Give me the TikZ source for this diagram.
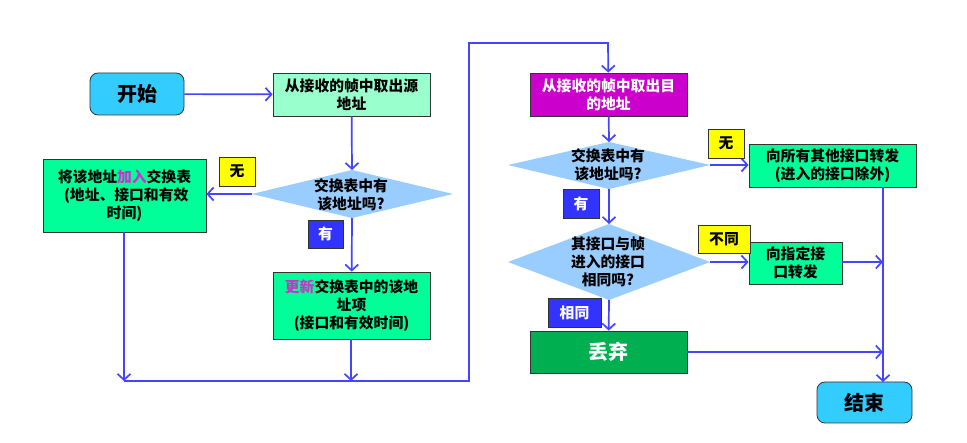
\documentclass[tikz,border=0pt]{standalone}
\usepackage{fontspec}
\setmainfont{Noto Sans CJK SC}
\usetikzlibrary{arrows.meta}
\definecolor{lineblue}{HTML}{4545FF}
\definecolor{startc}{HTML}{33CCFF}
\definecolor{mintc}{HTML}{99FFCC}
\definecolor{greenc}{HTML}{00FF99}
\definecolor{magc}{HTML}{CC00CC}
\definecolor{diac}{HTML}{99CCFF}
\definecolor{yelc}{HTML}{FFFF00}
\definecolor{bluec}{HTML}{3333FF}
\definecolor{darkgc}{HTML}{00B050}
\definecolor{bordc}{HTML}{333333}
\definecolor{hlc}{HTML}{CC33CC}
\begin{document}
\begin{tikzpicture}[x=1pt,y=-1pt,
  ln/.style={draw=lineblue, line width=1.7pt},
  arr/.style={ln, -{Straight Barb[length=6pt,width=13pt,line width=1.7pt]}},
  bx/.style={draw=bordc, line width=0.8pt, align=center, inner sep=0pt,
    font=\fontsize{14.8}{18}\selectfont\bfseries},
  bigbx/.style={bx, rounded corners=8pt, fill=startc, font=\fontsize{20}{24}\selectfont\bfseries},
  lbl/.style={draw=bordc, line width=0.8pt, inner sep=0pt, align=center,
    font=\fontsize{14.8}{16}\selectfont\bfseries},
  ylbl/.style={lbl, fill=yelc, text=black},
  blbl/.style={lbl, fill=bluec, text=white},
  dia/.style={fill=diac},
  dtext/.style={align=center, inner sep=0pt, font=\fontsize{14.8}{18}\selectfont\bfseries}
]
\useasboundingbox (0,0) rectangle (967,443);
\fill[white] (0,0) rectangle (967,443);

% ---- left half ----
\node[bigbx, minimum width=94pt, minimum height=42pt] (start) at (137,94) {开始};
\node[bx, fill=mintc, minimum width=157pt, minimum height=43pt] (src) at (351.5,94.5) {从接收的帧中取出源\\地址};

\coordinate (d1w) at (252,194); \coordinate (d1n) at (352,170);
\coordinate (d1e) at (453,194); \coordinate (d1s) at (352,218);
\fill[dia] (d1w) -- (d1n) -- (d1e) -- (d1s) -- cycle;
\node[dtext] (d1) at (351,195) {交换表中有\\该地址吗?};

\node[bx, fill=greenc, minimum width=163pt, minimum height=73pt] (add) at (124.5,195.5)
  {将该地址\textcolor{hlc}{加入}交换表\\\ (地址、接口和有效\\时间)};
\node[bx, fill=greenc, minimum width=157pt, minimum height=67pt] (upd) at (351.5,305.5)
  {\textcolor{hlc}{更新}交换表中的该地\\址项\\(接口和有效时间)};

\coordinate (j1) at (124,381);
\coordinate (j2) at (351,381);
\coordinate (j3) at (469,381);
\coordinate (j4) at (469,43);
\coordinate (j5) at (608,43);

\draw[arr] (start) -- (src);
\draw[arr] (src) -- (d1n);
\draw[arr] (d1w) -- (add.east |- d1w);
\draw[arr] (d1s) -- (upd);
\draw[arr] (add.south -| j1) -- (j1);
\draw[arr] (upd.south -| j2) -- (j2);

\node[ylbl, minimum width=36pt, minimum height=29pt] (no1) at (237,171.5) {无};
\node[blbl, minimum width=35pt, minimum height=28pt] (yes1) at (325.5,234) {有};

% ---- right half ----
\node[bx, fill=magc, text=white, minimum width=157pt, minimum height=43pt] (dst) at (608.5,94.5) {从接收的帧中取出目\\的地址};
\draw[arr] (j1) -- (j3) -- (j4) -- (j5) -- (dst);

\coordinate (d2w) at (508,165); \coordinate (d2n) at (609,142);
\coordinate (d2e) at (710,165); \coordinate (d2s) at (609,189);
\fill[dia] (d2w) -- (d2n) -- (d2e) -- (d2s) -- cycle;
\node[dtext] (d2) at (608,165) {交换表中有\\该地址吗?};

\coordinate (d3w) at (508,262); \coordinate (d3n) at (609,224);
\coordinate (d3e) at (710,262); \coordinate (d3s) at (609,300);
\fill[dia] (d3w) -- (d3n) -- (d3e) -- (d3s) -- cycle;
\node[dtext] (d3) at (608,262) {其接口与帧\\进入的接口\\相同吗?};

\node[bx, fill=greenc, minimum width=167pt, minimum height=43pt] (all) at (832.5,165.5) {向所有其他接口转发\\(进入的接口除外)};
\node[bx, fill=greenc, minimum width=93pt, minimum height=42pt] (spec) at (795.5,263) {向指定接\\口转发};
\node[bx, fill=darkgc, text=white, minimum width=157pt, minimum height=42pt,
  font=\fontsize{20}{24}\selectfont\bfseries] (disc) at (608.5,352) {丢弃};
\node[bigbx, minimum width=95pt, minimum height=41pt] (end) at (864.5,402.5) {结束};

\coordinate (r0) at (883,187);
\coordinate (r1) at (883,262);
\coordinate (r2) at (883,352);
\coordinate (r3) at (883,382);

\draw[arr] (dst) -- (d2n);
\draw[arr] (d2e) -- (all.west |- d2e);
\draw[arr] (d2s) -- (d3n);
\draw[arr] (d3e) -- (spec.west |- d3e);
\draw[arr] (d3s) -- (disc);
\draw[arr] (spec.east |- r1) -- (r1);
\draw[arr] (disc.east |- r2) -- (r2);
\draw[arr] (r0) -- (r3);

\node[ylbl, minimum width=36pt, minimum height=29pt] (no2) at (726,143.5) {无};
\node[blbl, minimum width=36pt, minimum height=29pt] (yes2) at (581,203.5) {有};
\node[ylbl, minimum width=52pt, minimum height=28pt] (diff) at (724,239) {不同};
\node[blbl, minimum width=53pt, minimum height=29pt] (same) at (574.5,312.5) {相同};
\end{tikzpicture}
\end{document}
